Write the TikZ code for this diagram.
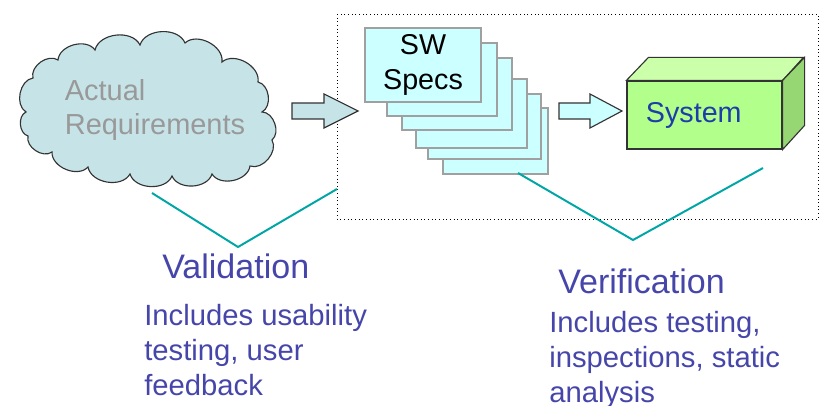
\documentclass[tikz,border=0pt]{standalone}
\usepackage{fontspec}
\setmainfont{Liberation Sans}
\usetikzlibrary{positioning}
\definecolor{cloudfill}{RGB}{198,228,232}
\definecolor{pagefill}{RGB}{204,255,255}
\definecolor{pageline}{RGB}{160,160,160}
\definecolor{sysfront}{RGB}{178,255,140}
\definecolor{systop}{RGB}{204,255,170}
\definecolor{sysside}{RGB}{150,215,115}
\definecolor{systext}{RGB}{30,60,170}
\definecolor{vline}{RGB}{0,166,166}
\definecolor{vtext}{RGB}{70,70,170}

\begin{document}
\begin{tikzpicture}[x=0.025cm, y=-0.025cm,
    cloudline/.style={draw=black!80, fill=cloudfill, line width=0.8pt},
    reqtext/.style={align=left, text=gray!80, font=\fontsize{20.6}{24.8}\selectfont},
    sheet/.style={draw=pageline, fill=pagefill, line width=0.8pt},
    sysbox/.style={rectangle, draw=black!80, fill=sysfront, line width=0.8pt, minimum height=1.7cm, inner xsep=0.475cm, text width=2.925cm, align=left, text=systext, font=\fontsize{20.4}{24.8}\selectfont},
    blockarrow/.style={draw=black!80, line width=0.8pt},
    vee/.style={draw=vline, line width=1.4pt},
    heading/.style={anchor=base west, inner sep=0, text=vtext, font=\fontsize{24.2}{28}\selectfont},
    note/.style={anchor=base west, inner sep=0, align=left, text=vtext, font=\fontsize{20.8}{24.8}\selectfont}
]
\useasboundingbox (0,0) rectangle (819,406);

% dotted frame round specs and system
\draw[dotted, line width=0.6pt] (337,14) rectangle (818,219);

% cloud of actual requirements
\draw[cloudline] (26,112) to[bend left=70] (33,78) to[bend left=70] (58,60) to[bend left=70] (95,50)
    to[bend left=70] (140,45) to[bend left=70] (185,43) to[bend left=70] (222,62) to[bend left=70] (258,82)
    to[bend left=70] (262,112) to[bend left=70] (272,140) to[bend left=70] (250,166) to[bend left=70] (212,174)
    to[bend left=70] (172,176) to[bend left=70] (130,174) to[bend left=70] (88,167) to[bend left=70] (52,152)
    to[bend left=70] (28,136) to[bend left=70] (26,112) -- cycle;
\node[reqtext] (req) at (155,110) {Actual\\Requirements};

% stack of spec sheets, back to front
\foreach \xa/\ya/\xb/\yb in {443/108/548/174, 428/94/541/159, 416/79/527/148, 402/58/512/130, 387/43/497/116}
    \draw[sheet] (\xa,\ya) rectangle (\xb,\yb);
\node[sheet, minimum width=2.9cm, minimum height=1.85cm, align=center, font=\fontsize{20.4}{24.8}\selectfont] (specs) at (423,65) {SW\\Specs};

% 3d system box
\node[sysbox] (system) at (704.5,115) {System};
\draw[blockarrow, fill=systop] (system.north west) -- ++(22,-23) -- ++(155,0) -- (system.north east) -- cycle;
\draw[blockarrow, fill=sysside] (system.north east) -- ++(22,-23) -- ++(0,68) -- (system.south east) -- cycle;

% block arrows
\draw[blockarrow, fill=cloudfill] (292,103) -- (324,103) -- (324,94) -- (358,111) -- (324,128) -- (324,119) -- (292,119) -- cycle;
\draw[blockarrow, fill=pagefill] (559,103) -- (590,103) -- (590,94) -- (622,111) -- (590,128) -- (590,119) -- (559,119) -- cycle;

% validation / verification brackets
\coordinate (valL) at (152,193);
\coordinate (valB) at (238,247);
\coordinate (valR) at (337,189);
\coordinate (verL) at (518,173);
\coordinate (verB) at (633,240);
\coordinate (verR) at (763,168);
\draw[vee] (valL) -- (valB) -- (valR);
\draw[vee] (verL) -- (verB) -- (verR);

\node[heading] (valtitle) at (162,278) {Validation};
\node[note] (valnote) at (144,395) {Includes usability\\testing, user\\feedback};
\node[heading] (vertitle) at (558,293) {Verification};
\node[note] (vernote) at (549,402) {Includes testing,\\inspections, static\\analysis};

\end{tikzpicture}
\end{document}
